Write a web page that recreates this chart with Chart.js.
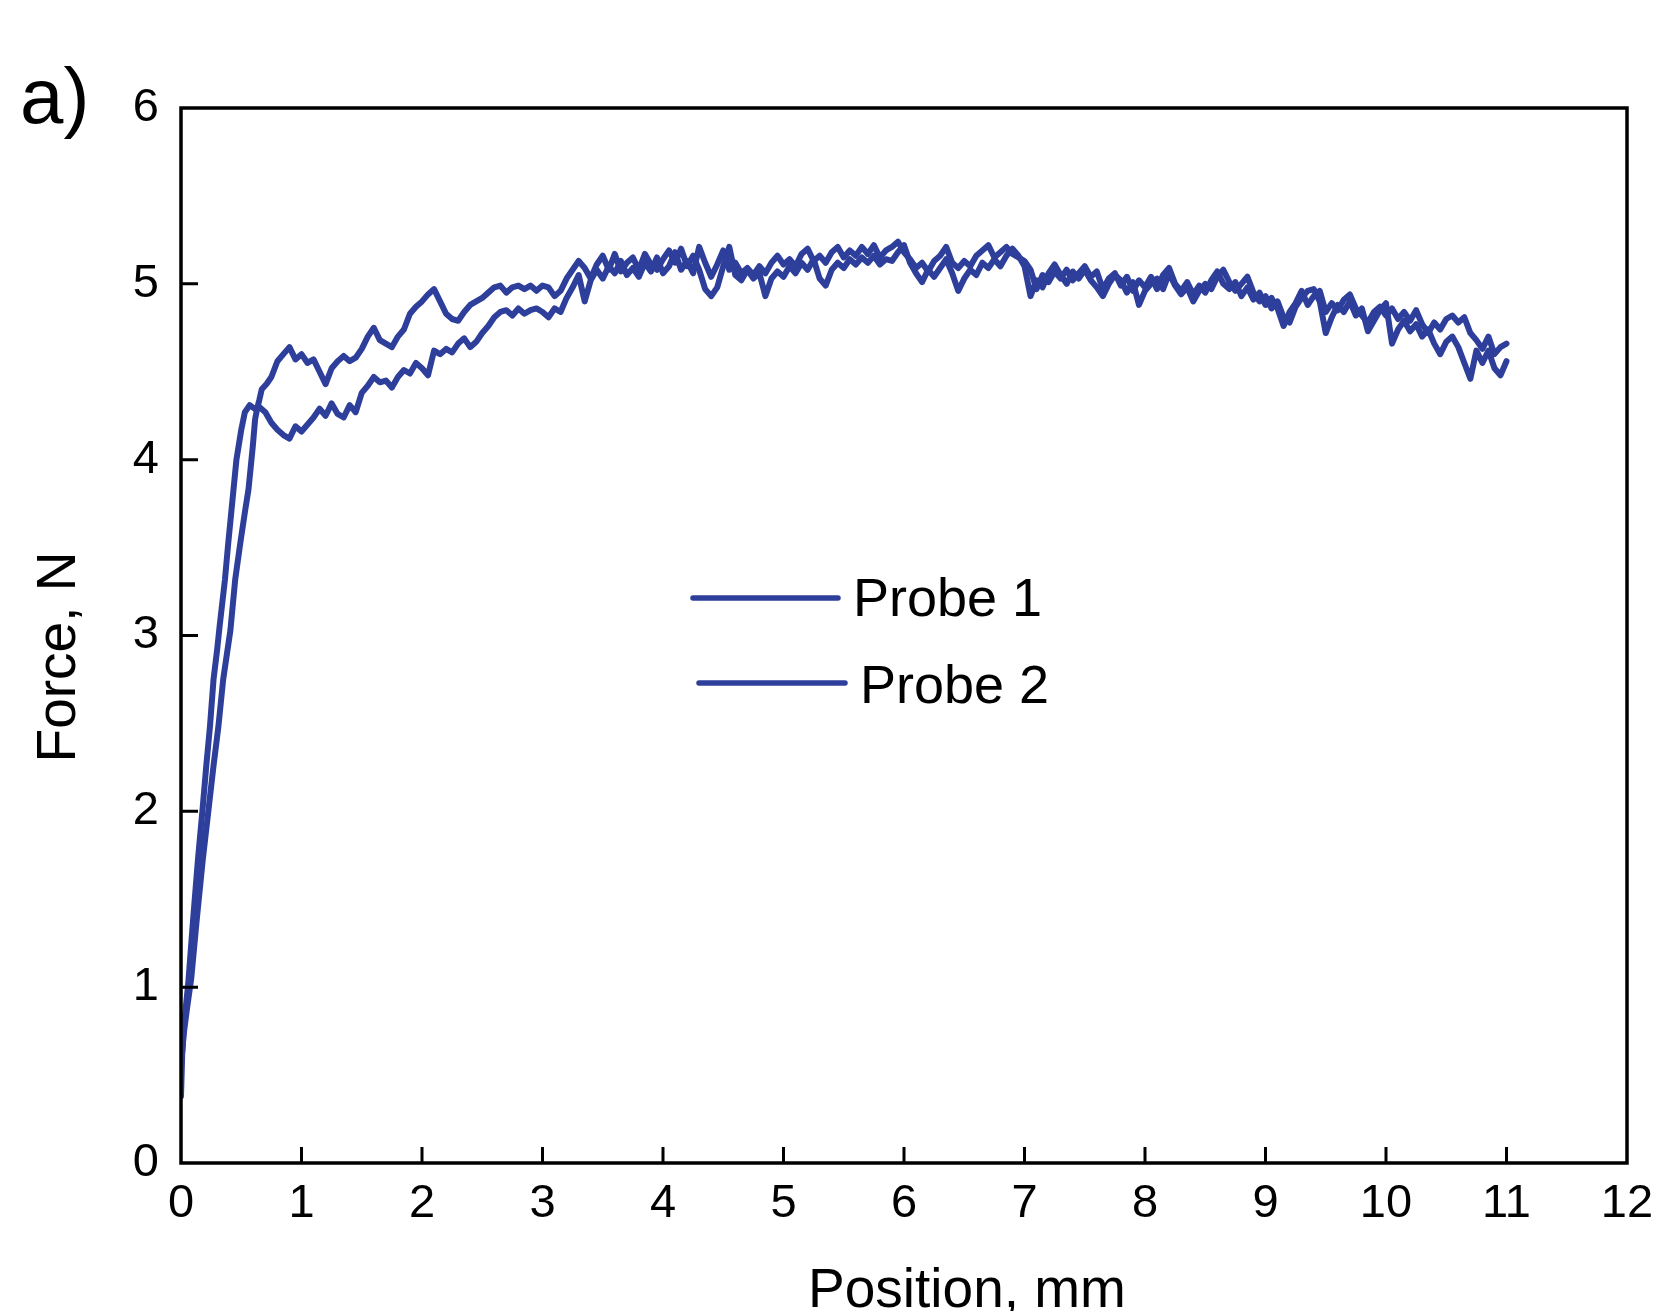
<!DOCTYPE html>
<html>
<head>
<meta charset="utf-8">
<script src="https://cdn.jsdelivr.net/npm/chart.js@4.4.1/dist/chart.umd.min.js"></script>
<style>
html,body{margin:0;padding:0;background:#fff;}
#wrap{width:1660px;height:1311px;position:relative;}
canvas{display:block;}
</style>
</head>
<body>
<div id="wrap"><canvas id="c" width="1660" height="1311"></canvas></div>
<script>
// ---------------- DATA ----------------
const xTicks = [0,1,2,3,4,5,6,7,8,9,10,11,12];
const yTicks = [0,1,2,3,4,5,6];
const seriesNames = ["Probe 1", "Probe 2"];

// initial loading ramp (mm, N)
const rampX1 = [0,0.01,0.03,0.06,0.10,0.14,0.18,0.21,0.24,0.27,0.30,0.32,0.365,0.39,0.43,0.46,0.50,0.53,0.57,0.61,0.65,0.70];
const rampY1 = [0.38,0.62,0.82,1.02,1.38,1.72,2.02,2.26,2.48,2.75,2.92,3.05,3.32,3.51,3.79,4.00,4.17,4.27,4.31,4.29,4.30,4.27];
const rampX2 = [0,0.02,0.05,0.085,0.13,0.18,0.23,0.27,0.31,0.35,0.41,0.45,0.495,0.53,0.56,0.595,0.615,0.635,0.65,0.67,0.71];
const rampY2 = [0.55,0.72,0.88,1.05,1.38,1.72,2.02,2.26,2.48,2.75,3.03,3.32,3.54,3.70,3.83,4.07,4.23,4.30,4.34,4.40,4.43];

// positions of the sampled plateau (mm)
const positions = [
0.75,0.80,0.85,0.90,0.95,
1.00,1.05,1.10,1.15,1.20,1.25,1.30,1.35,1.40,1.45,1.50,1.55,1.60,1.65,1.70,1.75,1.80,1.85,1.90,1.95,
2.00,2.05,2.10,2.15,2.20,2.25,2.30,2.35,2.40,2.45,2.50,2.55,2.60,2.65,2.70,2.75,2.80,2.85,2.90,2.95,
3.00,3.05,3.10,3.15,3.20,3.25,3.30,3.35,3.40,3.45,3.50,3.55,3.60,3.65,3.70,3.75,3.80,3.85,3.90,3.95,
4.00,4.05,4.10,4.15,4.20,4.25,4.30,4.35,4.40,4.45,4.50,4.55,4.60,4.65,4.70,4.75,4.80,4.85,4.90,4.95,
5.00,5.05,5.10,5.15,5.20,5.25,5.30,5.35,5.40,5.45,5.50,5.55,5.60,5.65,5.70,5.75,5.80,5.85,5.90,5.95,
6.00,6.05,6.10,6.15,6.20,6.25,6.30,6.35,6.40,6.45,6.50,6.55,6.60,6.65,6.70,6.75,6.80,6.85,6.90,6.95,
7.00,7.05,7.10,7.15,7.20,7.25,7.30,7.35,7.40,7.45,7.50,7.55,7.60,7.65,7.70,7.75,7.80,7.85,7.90,7.95,
8.00,8.05,8.10,8.15,8.20,8.25,8.30,8.35,8.40,8.45,8.50,8.55,8.60,8.65,8.70,8.75,8.80,8.85,8.90,8.95,
9.00,9.05,9.10,9.15,9.20,9.25,9.30,9.35,9.40,9.45,9.50,9.55,9.60,9.65,9.70,9.75,9.80,9.85,9.90,9.95,
10.00,10.05,10.10,10.15,10.20,10.25,10.30,10.35,10.40,10.45,10.50,10.55,10.60,10.65,10.70,10.75,10.80,10.85,10.90,10.95,
11.00];

const probe1 = [
4.21,4.17,4.14,4.12,4.19,
4.16,4.20,4.24,4.29,4.25,4.32,4.26,4.24,4.31,4.27,4.38,4.42,4.47,4.44,4.45,4.41,4.47,4.51,4.49,4.55,
4.52,4.48,4.62,4.60,4.63,4.61,4.66,4.69,4.64,4.67,4.72,4.76,4.81,4.84,4.85,4.82,4.86,4.83,4.85,4.86,
4.84,4.81,4.86,4.84,4.92,4.98,5.05,4.90,5.02,5.08,5.03,5.10,5.06,5.13,5.05,5.09,5.04,5.12,5.07,5.15,
5.06,5.10,5.18,5.08,5.13,5.06,5.21,5.12,5.04,5.11,5.19,5.08,5.12,5.06,5.09,5.05,5.10,5.06,5.12,5.16,
5.11,5.14,5.10,5.17,5.20,5.13,5.16,5.12,5.18,5.21,5.15,5.19,5.16,5.21,5.17,5.22,5.15,5.19,5.21,5.24,
5.18,5.14,5.09,5.12,5.07,5.13,5.16,5.21,5.12,5.09,5.13,5.10,5.16,5.19,5.22,5.15,5.18,5.21,5.17,5.15,
5.13,5.08,4.97,5.05,5.01,5.07,5.03,5.08,5.02,5.06,5.10,5.04,5.07,4.97,5.03,5.06,4.99,5.04,4.96,5.02,
4.98,5.04,4.97,5.05,5.09,5.00,4.96,5.01,4.94,4.99,4.95,5.02,5.07,5.00,4.97,5.01,4.93,4.98,4.91,4.95,
4.88,4.92,4.86,4.76,4.84,4.89,4.96,4.88,4.93,4.96,4.84,4.89,4.85,4.91,4.94,4.86,4.82,4.78,4.84,4.87,
4.82,4.86,4.80,4.84,4.79,4.85,4.77,4.72,4.78,4.74,4.80,4.82,4.78,4.81,4.72,4.68,4.63,4.70,4.60,4.64,
4.66];

const probe2 = [
4.47,4.56,4.60,4.64,4.57,
4.60,4.55,4.57,4.50,4.43,4.52,4.56,4.59,4.56,4.58,4.63,4.70,4.75,4.68,4.66,4.64,4.70,4.74,4.83,4.87,
4.90,4.94,4.97,4.90,4.83,4.80,4.79,4.84,4.88,4.90,4.92,4.95,4.98,4.99,4.95,4.98,4.99,4.97,4.99,4.96,
4.99,4.98,4.93,4.96,5.03,5.08,5.13,5.09,5.03,5.11,5.16,5.08,5.17,5.07,5.12,5.15,5.08,5.17,5.11,5.08,
5.14,5.19,5.12,5.20,5.10,5.16,5.08,4.97,4.93,4.98,5.10,5.21,5.05,5.02,5.08,5.03,5.06,4.93,5.03,5.07,
5.04,5.10,5.06,5.12,5.08,5.14,5.03,4.99,5.08,5.12,5.09,5.14,5.11,5.15,5.12,5.16,5.11,5.14,5.13,5.18,
5.22,5.12,5.06,5.01,5.08,5.04,5.09,5.14,5.06,4.96,5.03,5.08,5.05,5.12,5.09,5.14,5.10,5.16,5.20,5.16,
5.10,4.93,5.02,4.98,5.06,5.11,5.05,5.00,5.07,5.03,5.08,5.02,4.98,4.93,5.00,5.05,5.02,4.95,5.01,4.88,
4.96,5.00,5.03,4.97,5.06,4.99,4.94,4.98,4.90,4.96,5.00,4.97,5.04,5.08,5.01,4.96,5.00,5.04,4.95,4.90,
4.93,4.86,4.90,4.81,4.78,4.87,4.92,4.96,4.97,4.90,4.72,4.81,4.88,4.84,4.90,4.82,4.86,4.73,4.79,4.85,
4.89,4.66,4.74,4.79,4.73,4.77,4.70,4.74,4.66,4.60,4.67,4.70,4.64,4.55,4.46,4.62,4.55,4.62,4.52,4.48,
4.56];

// ---------------- BUILD ----------------
function pts(xs, ys) { return xs.map((x, i) => ({x: x, y: ys[i]})); }
const data1 = pts(rampX1, rampY1).concat(pts(positions, probe1));
const data2 = pts(rampX2, rampY2).concat(pts(positions, probe2));

const FONT = '"Liberation Sans", Arial, Helvetica, sans-serif';
const LINE_COLOR = '#2E3F9B';

const framePlugin = {
  id: 'frame',
  afterDatasetsDraw(chart) {
    const ctx = chart.ctx, a = chart.chartArea;
    const xs = chart.scales.x, ys = chart.scales.y;
    ctx.save();
    ctx.strokeStyle = '#000';
    ctx.lineCap = 'butt';
    ctx.lineWidth = 3;
    ctx.beginPath();
    xs.ticks.forEach(t => {
      if (t.value > xs.min && t.value < xs.max) {
        const px = xs.getPixelForValue(t.value);
        ctx.moveTo(px, a.bottom); ctx.lineTo(px, a.bottom - 16);
      }
    });
    ys.ticks.forEach(t => {
      if (t.value > ys.min && t.value < ys.max) {
        const py = ys.getPixelForValue(t.value);
        ctx.moveTo(a.left, py); ctx.lineTo(a.left + 17, py);
      }
    });
    ctx.stroke();
    ctx.lineWidth = 3.5;
    ctx.lineJoin = 'miter';
    ctx.strokeRect(a.left, a.top, a.right - a.left, a.bottom - a.top);

    // legend
    const legendPos = [{x0: 693, x1: 838, y: 598, tx: 853, ty: 616}, {x0: 699, x1: 845, y: 683, tx: 860, ty: 703}];
    chart.data.datasets.forEach((ds, i) => {
      const p = legendPos[i];
      ctx.strokeStyle = ds.borderColor;
      ctx.lineWidth = 5.5;
      ctx.lineCap = 'round';
      ctx.beginPath(); ctx.moveTo(p.x0, p.y); ctx.lineTo(p.x1, p.y); ctx.stroke();
      ctx.fillStyle = '#000';
      ctx.font = '54px ' + FONT;
      ctx.textAlign = 'left'; ctx.textBaseline = 'alphabetic';
      ctx.fillText(ds.label, p.tx, p.ty);
    });

    // panel label
    ctx.fillStyle = '#000';
    ctx.font = '78px ' + FONT;
    ctx.textAlign = 'left'; ctx.textBaseline = 'alphabetic';
    ctx.fillText('a)', 20, 123);

    // axis titles
    ctx.font = '55px ' + FONT;
    ctx.textAlign = 'center';
    ctx.fillText('Position, mm', 967, 1307);
    ctx.save();
    ctx.translate(75, 657);
    ctx.rotate(-Math.PI / 2);
    ctx.fillText('Force, N', 0, 0);
    ctx.restore();
    ctx.restore();
  }
};

new Chart(document.getElementById('c'), {
  type: 'scatter',
  data: {
    datasets: [
      {label: seriesNames[0], data: data1, showLine: true, borderColor: LINE_COLOR, backgroundColor: LINE_COLOR, borderWidth: 6, pointRadius: 0, tension: 0, borderJoinStyle: 'round', borderCapStyle: 'round'},
      {label: seriesNames[1], data: data2, showLine: true, borderColor: LINE_COLOR, backgroundColor: LINE_COLOR, borderWidth: 6, pointRadius: 0, tension: 0, borderJoinStyle: 'round', borderCapStyle: 'round'}
    ]
  },
  options: {
    responsive: false,
    animation: false,
    devicePixelRatio: 1,
    layout: {padding: {top: 108, right: 33, left: 0, bottom: 0}},
    plugins: {legend: {display: false}, tooltip: {enabled: false}},
    scales: {
      x: {
        type: 'linear', min: xTicks[0], max: xTicks[xTicks.length - 1],
        afterBuildTicks: s => { s.ticks = xTicks.map(v => ({value: v})); },
        ticks: {color: '#000', font: {family: FONT, size: 47}, padding: 13, maxRotation: 0, autoSkip: false},
        grid: {drawOnChartArea: false, drawTicks: false},
        border: {display: false},
        afterFit: s => { s.height = 148; s.paddingLeft = 0; s.paddingRight = 0; }
      },
      y: {
        type: 'linear', min: yTicks[0], max: yTicks[yTicks.length - 1],
        afterBuildTicks: s => { s.ticks = yTicks.map(v => ({value: v})); },
        ticks: {color: '#000', font: {family: FONT, size: 47}, padding: 22, autoSkip: false},
        grid: {drawOnChartArea: false, drawTicks: false},
        border: {display: false},
        afterFit: s => { s.width = 181; s.paddingTop = 0; s.paddingBottom = 0; }
      }
    }
  },
  plugins: [framePlugin]
});
</script>
</body>
</html>
